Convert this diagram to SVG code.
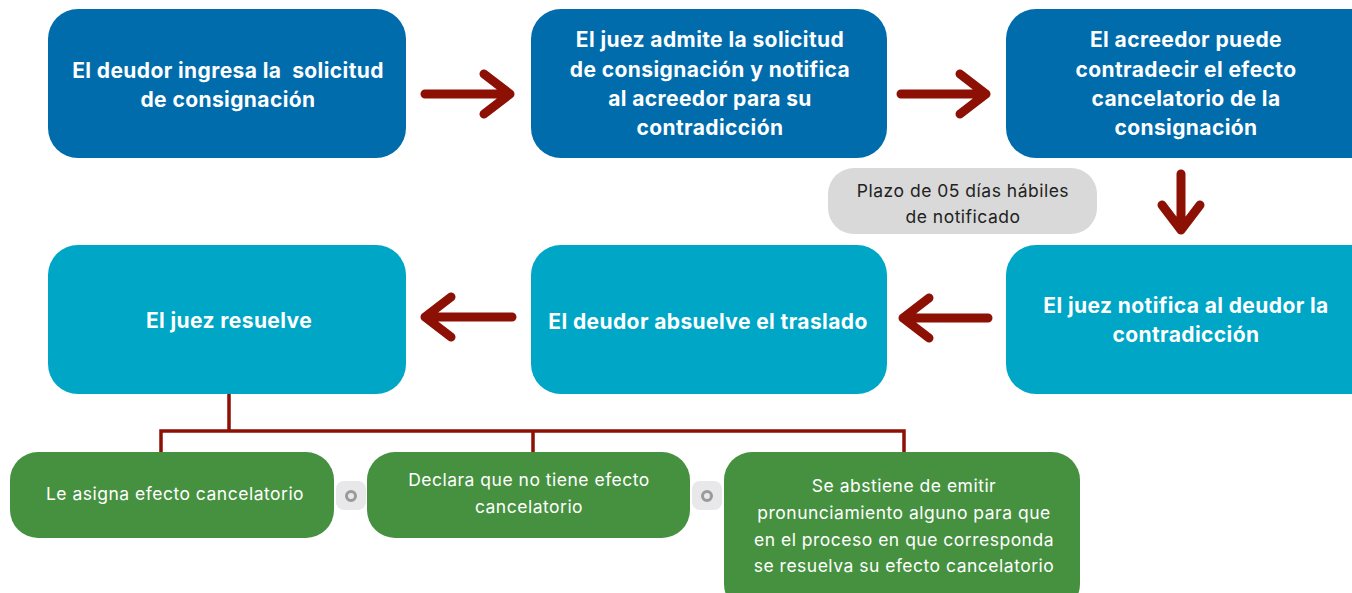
<svg xmlns="http://www.w3.org/2000/svg" width="1352" height="593" viewBox="0 0 1352 593">
<defs>
<style>
.b1{fill:#006CAC}
.b2{fill:#00A6C6}
.g{fill:#46913F}
.tb{font-family:Inter,"Liberation Sans",sans-serif;font-weight:700;font-size:21px;letter-spacing:0.4px;fill:#fff;text-anchor:middle;white-space:pre}
.tg{font-family:Inter,"Liberation Sans",sans-serif;font-weight:400;font-size:17.5px;letter-spacing:0.5px;fill:#fff;text-anchor:middle}
.tp{font-family:Inter,"Liberation Sans",sans-serif;font-weight:400;font-size:17.5px;letter-spacing:0.5px;fill:#222;text-anchor:middle}
.arr{fill:none;stroke:#8C1104;stroke-width:9;stroke-linecap:round;stroke-linejoin:round}
.tree{fill:none;stroke:#8C1104;stroke-width:3.5}
.ob{fill:#E8E8EA}
.oc{fill:none;stroke:#9A9A9A;stroke-width:3}
</style>
</defs>
<rect width="1352" height="593" fill="#fff"/>
<g id="n1"><rect class="b1" x="48" y="9" width="358" height="149" rx="30"/>
<text class="tb" x="228" y="78">El deudor ingresa la  solicitud</text>
<text class="tb" x="228" y="107">de consignación</text></g>
<g id="n2"><rect class="b1" x="531" y="9" width="356" height="149" rx="30"/>
<text class="tb" x="710" y="47">El juez admite la solicitud</text>
<text class="tb" x="710" y="77">de consignación y notifica</text>
<text class="tb" x="710" y="106">al acreedor para su</text>
<text class="tb" x="710" y="135">contradicción</text></g>
<g id="n3"><rect class="b1" x="1006" y="9" width="380" height="149" rx="30"/>
<text class="tb" x="1186" y="47">El acreedor puede</text>
<text class="tb" x="1186" y="77">contradecir el efecto</text>
<text class="tb" x="1186" y="106">cancelatorio de la</text>
<text class="tb" x="1186" y="135">consignación</text></g>
<g id="n4"><rect class="b2" x="48" y="245" width="358" height="149" rx="30"/>
<text class="tb" x="229" y="328">El juez resuelve</text></g>
<g id="n5"><rect class="b2" x="531" y="245" width="356" height="149" rx="30"/>
<text class="tb" x="708" y="329">El deudor absuelve el traslado</text></g>
<g id="n6"><rect class="b2" x="1006" y="245" width="380" height="149" rx="30"/>
<text class="tb" x="1186" y="313">El juez notifica al deudor la</text>
<text class="tb" x="1186" y="342">contradicción</text></g>
<g id="plazo"><rect x="828" y="168" width="269" height="66" rx="26" fill="#D9D9D9"/>
<text class="tp" x="963" y="197">Plazo de 05 días hábiles</text>
<text class="tp" x="963" y="223">de notificado</text></g>
<g id="connectors">
<path class="arr" d="M425 94H510M484 74L510 94L484 114"/>
<path class="arr" d="M901 94H986M960 74L986 94L960 114"/>
<path class="arr" d="M1181 174V230M1162 205L1181 230L1200 205"/>
<path class="arr" d="M988 318H903M929 298L903 318L929 338"/>
<path class="arr" d="M512 317H425M451 297L425 317L451 337"/>
<path class="tree" d="M229 394V431M161 452V431H904V452M533 431V452"/>
</g>
<g id="o1"><rect class="ob" x="336" y="481" width="30" height="29" rx="8"/><circle class="oc" cx="351" cy="496" r="4.5"/></g>
<g id="o2"><rect class="ob" x="692" y="481" width="30" height="29" rx="8"/><circle class="oc" cx="707" cy="496" r="4.5"/></g>
<g id="g1"><rect class="g" x="10" y="452" width="324" height="86" rx="28"/>
<text class="tg" x="175" y="500">Le asigna efecto cancelatorio</text></g>
<g id="g2"><rect class="g" x="367" y="452" width="323" height="86" rx="28"/>
<text class="tg" x="529" y="486">Declara que no tiene efecto</text>
<text class="tg" x="529" y="513">cancelatorio</text></g>
<g id="g3"><rect class="g" x="724" y="452" width="356" height="160" rx="28"/>
<text class="tg" x="904" y="492">Se abstiene de emitir</text>
<text class="tg" x="904" y="519">pronunciamiento alguno para que</text>
<text class="tg" x="904" y="546">en el proceso en que corresponda</text>
<text class="tg" x="904" y="572">se resuelva su efecto cancelatorio</text></g>
</svg>
